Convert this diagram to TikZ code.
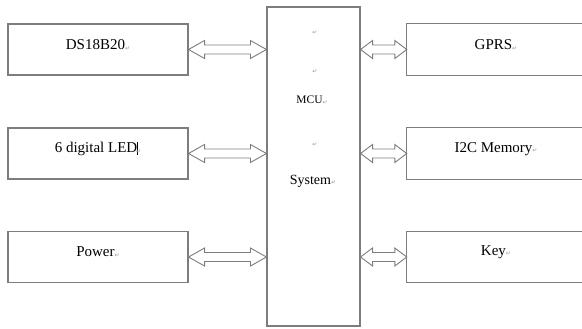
\documentclass[tikz,border=0pt]{standalone}
\usepackage{fontspec}
\setmainfont{Liberation Serif}
\newfontfamily\tnr{Liberation Serif}
\newfontfamily\symfont{DejaVu Sans}
\usetikzlibrary{calc}
\definecolor{ln}{RGB}{125,125,125}
\newcommand\pmk{{\symfont\fontsize{6}{6}\selectfont\color{black!40}\raisebox{-0.5pt}{↵}}}
\newcommand\biarrow[3]{%
  \draw[conn] let \p1=(#1), \p2=(#2) in
    (\x1,\y1) -- (\x1+#3,\y1+9pt) -- (\x1+#3,\y1+4.5pt) -- (\x2-#3,\y1+4.5pt)
    -- (\x2-#3,\y1+9pt) -- (\x2,\y1) -- (\x2-#3,\y1-9pt) -- (\x2-#3,\y1-4.5pt)
    -- (\x1+#3,\y1-4.5pt) -- (\x1+#3,\y1-9pt) -- cycle;}
\tikzset{
  box/.style={draw=ln, line width=1.1pt, minimum width=180pt, minimum height=51pt,
    inner sep=0pt, font=\tnr\fontsize{15}{18}\selectfont},
  rbox/.style={minimum width=175pt, minimum height=51pt, inner sep=0pt,
    font=\tnr\fontsize{15}{18}\selectfont},
  mcubox/.style={draw=ln, line width=1.1pt, minimum width=93pt, minimum height=319pt, inner sep=0pt},
  conn/.style={draw=ln, line width=0.9pt, fill=white},
  edge/.style={draw=ln, line width=1.1pt},
  txt/.style={inner sep=0pt, font=\tnr\fontsize{15}{18}\selectfont},
  small/.style={inner sep=0pt}
}
\begin{document}
\begin{tikzpicture}[x=1pt,y=-1pt]
\useasboundingbox (0,0) rectangle (582,329);
% left boxes
\node[box] (ds) at (98,49.5) {};
\node[box] (led) at (98,153.5) {};
\node[box] (pow) at (98,257) {};
\node[txt] (dst) at (98,45) {DS18B20\pmk};
\node[txt] (ledt) at (98,149) {6 digital LED\rule[-2pt]{0.9pt}{13pt}\kern-2pt\pmk};
\node[txt] (powt) at (98,252) {Power\pmk};
% MCU
\node[mcubox] (mcu) at (313.5,166.5) {};
\node[small] (m1) at (315,33) {\pmk};
\node[small] (m2) at (315,72) {\pmk};
\node[small, font=\tnr\fontsize{11.5}{13}\selectfont] (m3) at (312,100) {MCU\pmk};
\node[small] (m4) at (315,145) {\pmk};
\node[small, font=\tnr\fontsize{14}{16}\selectfont] (m5) at (313,181) {System\pmk};
% right boxes (open on the right)
\node[rbox] (gprs) at (494.5,49.5) {};
\node[rbox] (mem) at (494.5,153.5) {};
\node[rbox] (key) at (494.5,257) {};
\node[txt] (gprst) at (496,45) {GPRS\pmk};
\node[txt] (memt) at (496,149) {I2C Memory\pmk};
\node[txt] (keyt) at (496,252) {Key\pmk};
\foreach \b in {gprs,mem,key}{
  \draw[edge] (\b.north east) -- (\b.north west) -- (\b.south west) -- (\b.south east);
}
% connectors
\biarrow{ds.east}{mcu.west |- ds.east}{16pt}
\biarrow{led.east}{mcu.west |- led.east}{16pt}
\biarrow{pow.east}{mcu.west |- pow.east}{16pt}
\biarrow{mcu.east |- gprs.west}{gprs.west}{12pt}
\biarrow{mcu.east |- mem.west}{mem.west}{12pt}
\biarrow{mcu.east |- key.west}{key.west}{12pt}
\end{tikzpicture}
\end{document}
